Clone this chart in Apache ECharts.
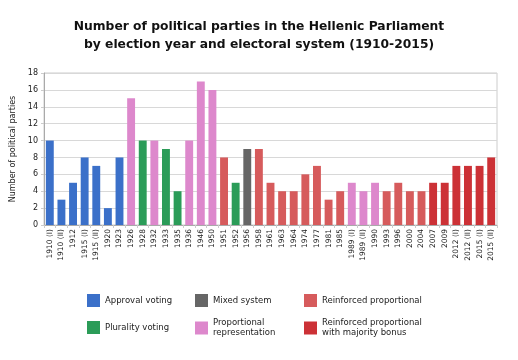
<!DOCTYPE html>
<html><head><meta charset="utf-8">
<script src="https://cdn.jsdelivr.net/npm/echarts@6/dist/echarts.min.js"></script>
<style>html,body{margin:0;padding:0;background:#fff}#c{width:518px;height:360px}</style>
</head><body><div id="c"></div>
<script>
const categories = ["1910 (I)","1910 (II)","1912","1915 (I)","1915 (II)","1920","1923","1926","1928","1932","1933","1935","1936","1946","1950","1951","1952","1956","1958","1961","1963","1964","1974","1977","1981","1985","1989 (I)","1989 (II)","1990","1993","1996","2000","2004","2007","2009","2012 (I)","2012 (II)","2015 (I)","2015 (II)"];
const partyCounts = [10,3,5,8,7,2,8,15,10,10,9,4,10,17,16,8,5,9,9,5,4,4,6,7,3,4,5,4,5,4,5,4,4,5,5,7,7,7,8];
// system index per election: 0 approval,1 plurality,2 mixed,3 proportional,4 reinforced,5 reinforced+bonus
const systemOf = [0,0,0,0,0,0,0,3,1,3,1,1,3,3,3,4,1,2,4,4,4,4,4,4,4,4,3,3,3,4,4,4,4,5,5,5,5,5,5];
const systems = ["Approval voting","Plurality voting","Mixed system","Proportional\nrepresentation","Reinforced proportional","Reinforced proportional\nwith majority bonus"];
const colors = ["#3b70c9","#2b9c58","#666666","#dd88cc","#d65b5c","#cc3136"];
const yTicks = [0,2,4,6,8,10,12,14,16,18];

const series = systems.map((s,i)=>({
  name: s, type:'bar', stack:'all', barWidth:'68%',
  itemStyle:{color:colors[i]},
  data: partyCounts.map((v,j)=> systemOf[j]===i ? v : '-')
}));
const legendPos = [[87,294],[87,321],[195,294],[195,318],[304,294],[304,318]];
const legend = systems.map((s,i)=>({
  data:[s], left:legendPos[i][0], top:legendPos[i][1], itemWidth:13, itemHeight:13, itemGap:6,
  selectedMode:false, icon:'rect', padding:0,
  textStyle:{fontFamily:'DejaVu Sans', fontSize:8.5, color:'#222', lineHeight:10}
}));
const chart = echarts.init(document.getElementById('c'));
chart.setOption({
  animation:false,
  title:{text:'Number of political parties in the Hellenic Parliament\nby election year and electoral system (1910-2015)', left:'center', top:13,
    textStyle:{fontFamily:'DejaVu Sans', fontSize:12.3, fontWeight:'bold', color:'#111', lineHeight:18}},
  legend: legend,
  grid:{left:44, right:21, top:73, bottom:135, show:true, borderColor:'#ccc', borderWidth:1},
  xAxis:{type:'category', data:categories, axisLine:{lineStyle:{color:'#aaa'}},
    axisTick:{show:true, length:3, lineStyle:{color:'#ccc'}},
    axisLabel:{rotate:90, interval:0, fontFamily:'DejaVu Sans', fontSize:7.5, color:'#222', margin:4}},
  yAxis:{type:'value', min:0, max:18, interval:2, name:'Number of political parties', nameLocation:'middle', nameGap:24,
    nameTextStyle:{fontFamily:'DejaVu Sans', fontSize:8, color:'#222'},
    axisLine:{show:true, lineStyle:{color:'#aaa'}}, axisTick:{show:true, length:3, lineStyle:{color:'#ccc'}},
    splitLine:{lineStyle:{color:'#d8d8d8'}},
    axisLabel:{fontFamily:'DejaVu Sans', fontSize:8, color:'#222', margin:6, formatter:v=>yTicks.includes(v)?String(v):''}},
  series: series
});
</script></body></html>
